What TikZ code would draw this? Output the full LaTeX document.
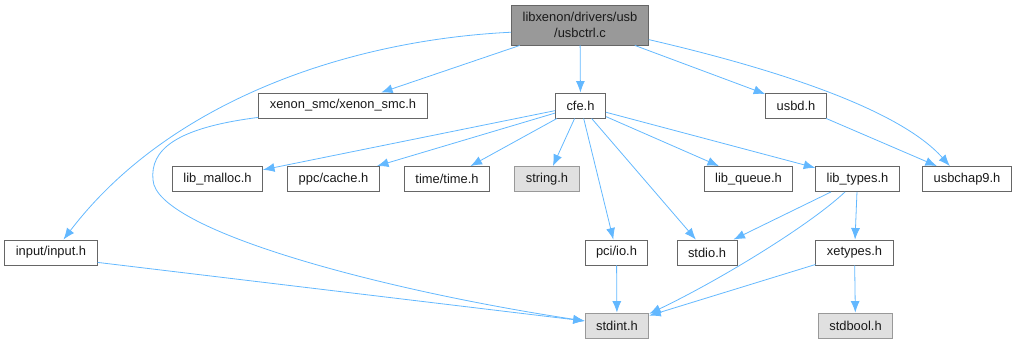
\documentclass[tikz,border=0pt]{standalone}
\usepackage{fontspec}
\setmainfont{Liberation Sans}
\usepackage{xcolor}
\usepackage{tikz}
\usetikzlibrary{arrows.meta}
\definecolor{edgeblue}{HTML}{63B8FF}
\definecolor{boxgrey}{HTML}{666666}
\definecolor{rootgrey}{HTML}{999999}
\definecolor{sysborder}{HTML}{999999}
\definecolor{sysgrey}{HTML}{E0E0E0}
\definecolor{labelgrey}{HTML}{1A1A1A}

\begin{document}
\begin{tikzpicture}[
    x=1pt, y=-1pt,
    >={Latex[length=11.5pt,width=9pt]},
    font=\fontsize{12.9}{15.5}\selectfont,
    filebox/.style={draw=boxgrey, fill=white, text=labelgrey, line width=0.9pt, inner xsep=11pt, inner ysep=0pt, minimum height=25pt},
    rootbox/.style={filebox, fill=rootgrey, minimum height=40pt, align=center},
    sysbox/.style={filebox, draw=sysborder, fill=sysgrey},
    incl/.style={->, draw=edgeblue, line width=0.8pt}
]
\useasboundingbox (0,0) rectangle (1017,344);

\node[rootbox] (usbctrl) at (580,25) {libxenon/drivers/usb\\/usbctrl.c};
\node[filebox] (xenonsmc) at (343,105.5) {xenon\_smc/xenon\_smc.h};
\node[filebox] (cfe) at (580.5,105.5) {cfe.h};
\node[filebox] (usbd) at (796,105.5) {usbd.h};
\node[filebox] (libmalloc) at (217.5,179) {lib\_malloc.h};
\node[filebox] (ppccache) at (333.5,179) {ppc/cache.h};
\node[filebox] (timetime) at (447,179) {time/time.h};
\node[sysbox] (stringh) at (547,179) {string.h};
\node[filebox] (libqueue) at (748.5,179) {lib\_queue.h};
\node[filebox] (libtypes) at (857.5,179) {lib\_types.h};
\node[filebox] (usbchap9) at (967,179) {usbchap9.h};
\node[filebox] (input) at (51,252.5) {input/input.h};
\node[filebox] (pciio) at (616.5,252.5) {pci/io.h};
\node[filebox] (stdioh) at (707,252.5) {stdio.h};
\node[filebox] (xetypes) at (854.5,252.5) {xetypes.h};
\node[sysbox] (stdint) at (617,325.5) {stdint.h};
\node[sysbox] (stdbool) at (855.5,325.5) {stdbool.h};

\draw[incl] (usbctrl.186) .. controls (350,40) and (170,100) .. (input.46);
\draw[incl] (usbctrl) -- (xenonsmc);
\draw[incl] (usbctrl) -- (cfe);
\draw[incl] (usbctrl) -- (usbd);
\draw[incl] (usbctrl.348) .. controls (780,70) and (900,110) .. (usbchap9.143);
\draw[incl] (xenonsmc.188) .. controls (175,128) and (150,150) .. (153,180)
    .. controls (156,230) and (380,290) .. (stdint.172);
\draw[incl] (input.348) -- (stdint.172);
\draw[incl] (cfe) -- (libmalloc);
\draw[incl] (cfe) -- (ppccache);
\draw[incl] (cfe) -- (timetime);
\draw[incl] (cfe) -- (stringh);
\draw[incl] (cfe) -- (pciio);
\draw[incl] (cfe) -- (stdioh);
\draw[incl] (cfe) -- (libqueue);
\draw[incl] (cfe) -- (libtypes);
\draw[incl] (usbd) -- (usbchap9);
\draw[incl] (pciio) -- (stdint);
\draw[incl] (libtypes) -- (stdioh);
\draw[incl] (libtypes.226) .. controls (810,225) and (720,280) .. (stdint.20);
\draw[incl] (libtypes) -- (xetypes);
\draw[incl] (xetypes) -- (stdint);
\draw[incl] (xetypes) -- (stdbool);
\end{tikzpicture}
\end{document}
